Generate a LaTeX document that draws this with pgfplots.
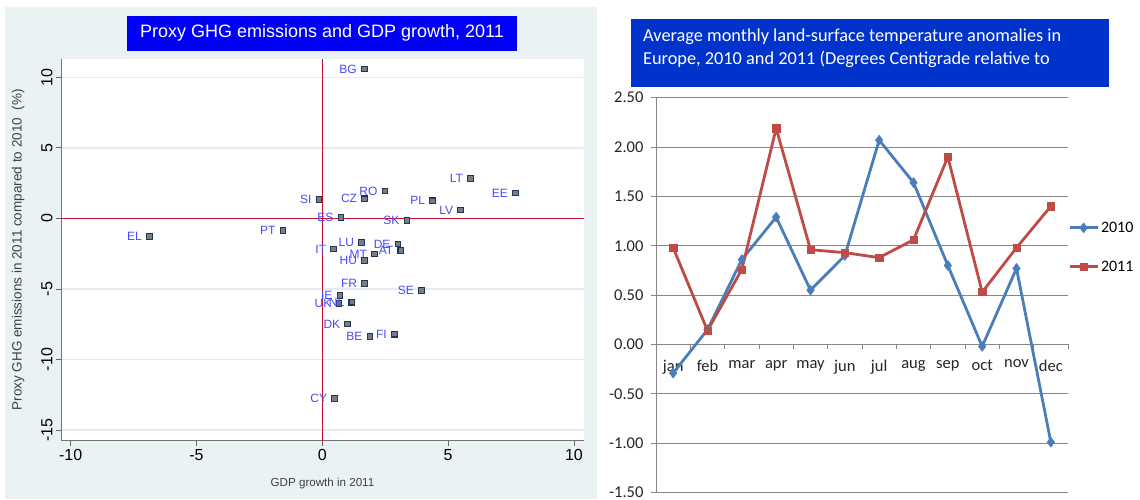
\documentclass[border=0pt]{standalone}
\usepackage{fontspec}
\setmainfont{Liberation Sans}
\newfontfamily\calibri{Carlito}
\usepackage{pgfplots}
\usepackage{pgfplotstable}
\pgfplotsset{compat=1.18}
\definecolor{stbg}{RGB}{234,242,243}
\definecolor{stgrid}{RGB}{226,236,240}
\definecolor{tblue}{RGB}{0,0,250}
\definecolor{tblue2}{RGB}{0,51,204}
\definecolor{lblue}{RGB}{72,72,255}
\definecolor{sred}{RGB}{200,16,46}
\definecolor{mnavy}{RGB}{30,55,85}
\definecolor{mfill}{RGB}{120,125,135}
\definecolor{xblue}{RGB}{74,126,187}
\definecolor{xred}{RGB}{190,75,72}
\definecolor{xgrid}{RGB}{134,134,134}

\pgfplotstableread{
x y lab
1.67 10.6 BG
5.89 2.83 LT
7.67 1.80 EE
2.49 1.94 RO
1.68 1.39 CZ
-0.13 1.35 SI
4.38 1.25 PL
5.50 0.59 LV
0.74 0.07 ES
3.36 -0.14 SK
-6.87 -1.28 EL
-1.56 -0.87 PT
0.45 -2.17 IT
1.56 -1.72 LU
3.01 -1.82 DE
3.12 -2.27 AT
2.07 -2.52 MT
1.68 -3.00 HU
1.68 -4.60 FR
3.94 -5.12 SE
0.70 -5.48 IE
0.66 -6.03 UK
1.17 -5.94 NL
1.01 -7.48 DK
1.89 -8.36 BE
2.86 -8.21 FI
0.49 -12.77 CY
}\ghg

\begin{document}
\begin{tikzpicture}[x=1pt,y=1pt]
\useasboundingbox (0pt,0pt) rectangle (1140pt,499pt);
\fill[white] (0pt,0pt) rectangle (1140pt,499pt);
\fill[stbg] (5pt,0pt) rectangle (597pt,492pt);
\fill[tblue] (127pt,448.3pt) rectangle (517pt,483.3pt);
\node[text=white, font=\fontsize{18}{21}\selectfont] at (322pt,465.8pt) {Proxy GHG emissions and GDP growth, 2011};
\fill[tblue2] (631pt,411.7pt) rectangle (1109pt,480pt);
\node[anchor=base west, text=white, font=\calibri\fontsize{18.3}{21}\selectfont, inner sep=0pt] at (643pt,457pt) {Average monthly land-surface temperature anomalies in};
\node[anchor=base west, text=white, font=\calibri\fontsize{18.3}{21}\selectfont, inner sep=0pt] at (643pt,434.5pt) {Europe, 2010 and 2011 (Degrees Centigrade relative to};

\begin{axis}[
  at={(61pt,58.3pt)}, anchor=south west, scale only axis,
  width=523pt, height=381.7pt,
  xmin=-10.385, xmax=10.4, ymin=-15.76, ymax=11.3,
  axis background/.style={fill=white},
  axis x line*=bottom, axis y line*=left,
  axis line style={draw=black!55, line width=0.9pt, -},
  xtick={-10,-5,0,5,10}, xticklabels={-10,-5,0,5,10},
  ytick={-15,-10,-5,0,5,10}, yticklabels={-15,-10,-5,0,5,10},
  tick align=outside, major tick length=5pt,
  tick style={draw=black!60, line width=0.8pt},
  ticklabel style={font=\fontsize{16}{18}\selectfont},
  yticklabel style={rotate=90, anchor=south},
  ymajorgrids, grid style={draw=stgrid, line width=1.3pt},
  xlabel={GDP growth in 2011},
  ylabel={Proxy GHG emissions in 2011 compared to 2010\ \ (\%)},
  xlabel style={font=\fontsize{11.6}{13}\selectfont, text=black!75, at={(axis description cs:0.5,-0.112)}, anchor=center},
  ylabel style={font=\fontsize{13.5}{15}\selectfont, text=black!75, at={(axis description cs:-0.0822,0.5)}, anchor=center},
  clip=false,
]
\draw[sred, line width=1.3pt] (axis cs:0,-15.76) -- (axis cs:0,11.3);
\draw[sred, line width=1.3pt] (axis cs:-10.385,0) -- (axis cs:10.4,0);
\addplot[only marks, mark=square*, mark size=2.8pt,
  mark options={draw=mnavy, fill=mfill, line width=1.1pt},
  nodes near coords, point meta=explicit symbolic,
  nodes near coords align={anchor=east},
  every node near coord/.append style={anchor=east, text=lblue, font=\fontsize{12}{14}\selectfont, inner sep=0pt, xshift=-7pt}]
  table[x=x,y=y,meta=lab]{\ghg};
\end{axis}

\begin{axis}[
  at={(656pt,6.5pt)}, anchor=south west, scale only axis,
  width=412pt, height=394.8pt,
  xmin=0.5, xmax=12.5, ymin=-1.5, ymax=2.5,
  axis x line=middle, axis y line=left,
  axis line style={draw=xgrid, line width=0.9pt, -},
  xtick={1,2,3,4,5,6,7,8,9,10,11,12},
  xticklabels={jan,feb,mar,apr,may,jun,jul,aug,sep,oct,nov,dec},
  every major x tick/.append style={draw=none},
  ytick={-1.5,-1,-0.5,0,0.5,1,1.5,2,2.5},
  yticklabels={-1.50,-1.00,-0.50,0.00,0.50,1.00,1.50,2.00,2.50},
  hide obscured x ticks=false, hide obscured y ticks=false,
  tick align=outside, major tick length=5pt,
  tick style={draw=xgrid, line width=0.9pt},
  ymajorgrids, grid style={draw=xgrid, line width=0.8pt},
  ticklabel style={font=\calibri\fontsize{16.5}{19}\selectfont, text=black!85},
  yticklabel style={xshift=-4pt},
  xticklabel style={yshift=-7pt},
  legend style={draw=none, fill=none, at={(1.0,0.621)}, anchor=west,
    font=\calibri\fontsize{16}{19}\selectfont, row sep=23pt, inner sep=0pt,
    nodes={inner sep=2pt}},
  legend cell align=left,
  legend image code/.code={\draw[mark repeat=2,mark phase=2,#1] plot coordinates {(0pt,0pt) (14pt,0pt) (28pt,0pt)};},
  clip=false,
]
\pgfplotsinvokeforeach{0.5,1.5,2.5,3.5,4.5,5.5,6.5,7.5,8.5,9.5,10.5,11.5,12.5}{
  \draw[xgrid, line width=0.9pt] (axis cs:#1,0) -- ++(0pt,-5pt);
}
\addplot[xblue, line width=2.8pt, mark=diamond*, mark size=5pt,
  mark options={solid, fill=xblue, line width=0.5pt}]
  coordinates {(1,-0.29) (2,0.15) (3,0.86) (4,1.29) (5,0.55) (6,0.90) (7,2.07) (8,1.64) (9,0.80) (10,-0.02) (11,0.77) (12,-0.99)};
\addlegendentry{2010}
\addplot[xred, line width=2.8pt, mark=square*, mark size=3.6pt,
  mark options={solid, fill=xred, line width=0.5pt}]
  coordinates {(1,0.98) (2,0.14) (3,0.76) (4,2.19) (5,0.96) (6,0.93) (7,0.88) (8,1.06) (9,1.90) (10,0.53) (11,0.98) (12,1.40)};
\addlegendentry{2011}
\end{axis}
\end{tikzpicture}
\end{document}
